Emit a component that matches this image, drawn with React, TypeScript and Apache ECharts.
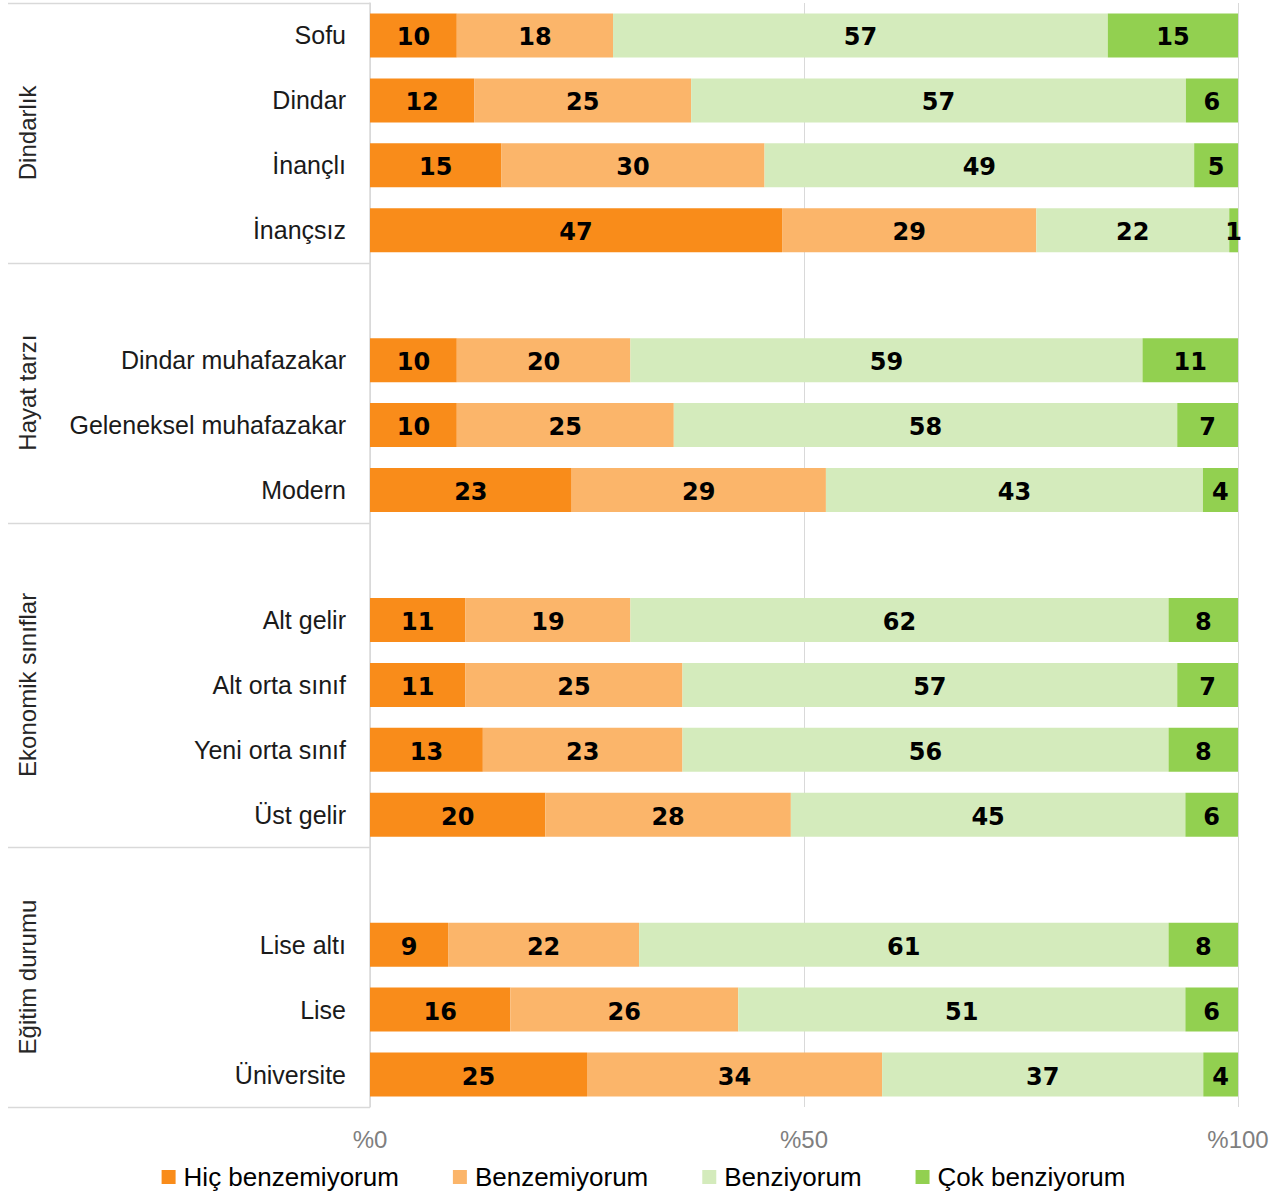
import React, { useEffect, useRef } from "react";
import * as echarts from "echarts";

const categories = [
  "Sofu", "Dindar", "İnançlı", "İnançsız", " ",
  "Dindar muhafazakar", "Geleneksel muhafazakar", "Modern", "  ",
  "Alt gelir", "Alt orta sınıf", "Yeni orta sınıf", "Üst gelir", "   ",
  "Lise altı", "Lise", "Üniversite",
];

const hicBenzemiyorum = [10, 12, 15, 47, null, 10, 10, 23, null, 11, 11, 13, 20, null, 9, 16, 25];
const benzemiyorum = [18, 25, 30, 29, null, 20, 25, 29, null, 19, 25, 23, 28, null, 22, 26, 34];
const benziyorum = [57, 57, 49, 22, null, 59, 58, 43, null, 62, 57, 56, 45, null, 61, 51, 37];
const cokBenziyorum = [15, 6, 5, 1, null, 11, 7, 4, null, 8, 7, 8, 6, null, 8, 6, 4];

const seriesNames = ["Hiç benzemiyorum", "Benzemiyorum", "Benziyorum", "Çok benziyorum"];
const seriesColors = ["#F98C1A", "#FBB56A", "#D4EBBC", "#92D050"];

const groups = [
  { name: "Dindarlık", from: 0, to: 4 },
  { name: "Hayat tarzı", from: 4, to: 8 },
  { name: "Ekonomik sınıflar", from: 8, to: 13 },
  { name: "Eğitim durumu", from: 13, to: 17 },
];

const xTicks = [0, 50, 100];

const W = 1287;
const H = 1197;
const GRID_LEFT = 370;
const GRID_RIGHT = 49;
const GRID_TOP = 3;
const GRID_BOTTOM = 90;

export default function App() {
  const ref = useRef<HTMLDivElement>(null);

  useEffect(() => {
    if (!ref.current) return;
    const chart = echarts.init(ref.current, null, { renderer: "svg" });
    const all = [hicBenzemiyorum, benzemiyorum, benziyorum, cokBenziyorum];
    const sums = categories.map((_, i) =>
      all.reduce((s, arr) => s + (arr[i] == null ? 0 : (arr[i] as number)), 0)
    );

    const series = all.map((arr, si) => ({
      name: seriesNames[si],
      type: "bar",
      stack: "total",
      barWidth: 44,
      itemStyle: { color: seriesColors[si] },
      label: {
        show: true,
        position: "inside",
        offset: [0, 2],
        fontFamily: "DejaVu Sans",
        fontWeight: "bold",
        fontSize: 24,
        color: "#000",
        formatter: (p: any) => (p.data && p.data.raw != null ? String(p.data.raw) : ""),
      },
      data: arr.map((v, i) =>
        v == null ? "-" : { value: (v / sums[i]) * 100, raw: v }
      ),
    }));

    const plotH = H - GRID_TOP - GRID_BOTTOM;
    const slot = plotH / categories.length;
    const graphics: any[] = [];
    const boundaries = [0, 4, 8, 13, 17];
    boundaries.forEach((k) => {
      const y = Math.round(GRID_TOP + k * slot) + 0.5;
      graphics.push({
        type: "line",
        shape: { x1: 8, y1: y, x2: GRID_LEFT, y2: y },
        style: { stroke: "#D9D9D9", lineWidth: 1.5 },
        silent: true,
      });
    });
    groups.forEach((g) => {
      const cy = GRID_TOP + ((g.from + g.to) / 2) * slot;
      graphics.push({
        type: "text",
        x: 27,
        y: cy,
        rotation: Math.PI / 2,
        style: {
          text: g.name,
          fontSize: 24,
          fontFamily: "Liberation Sans",
          fill: "#262626",
          align: "center",
          verticalAlign: "middle",
        },
        silent: true,
      });
    });

    chart.setOption({
      animation: false,
      backgroundColor: "#fff",
      grid: { left: GRID_LEFT, right: GRID_RIGHT, top: GRID_TOP, bottom: GRID_BOTTOM },
      legend: {
        data: seriesNames,
        top: 1159,
        left: "center",
        icon: "rect",
        itemWidth: 14,
        itemHeight: 14,
        itemGap: 54,
        textStyle: { fontSize: 26, fontFamily: "Liberation Sans", color: "#000", padding: [0, 0, 0, 3] },
      },
      xAxis: {
        type: "value",
        min: xTicks[0],
        max: xTicks[xTicks.length - 1],
        interval: 50,
        axisLine: { show: false },
        axisTick: { show: false },
        splitLine: { show: true, lineStyle: { color: "#D9D9D9", width: 1 } },
        axisLabel: {
          formatter: (v: number) => "%" + v,
          fontSize: 24,
          fontFamily: "Liberation Sans",
          color: "#7F7F7F",
          margin: 20,
        },
      },
      yAxis: {
        type: "category",
        inverse: true,
        data: categories,
        axisTick: { show: false },
        axisLine: { show: true, lineStyle: { color: "#D9D9D9", width: 1.5 } },
        axisLabel: {
          fontSize: 25,
          fontFamily: "Liberation Sans",
          color: "#1a1a1a",
          margin: 24,
          formatter: (v: string) => v.trim(),
        },
      },
      series,
      graphic: graphics,
    });

    return () => chart.dispose();
  }, []);

  return (
    <div
      ref={ref}
      style={{ position: "fixed", left: 0, top: 0, width: W, height: H, background: "#fff" }}
    />
  );
}
